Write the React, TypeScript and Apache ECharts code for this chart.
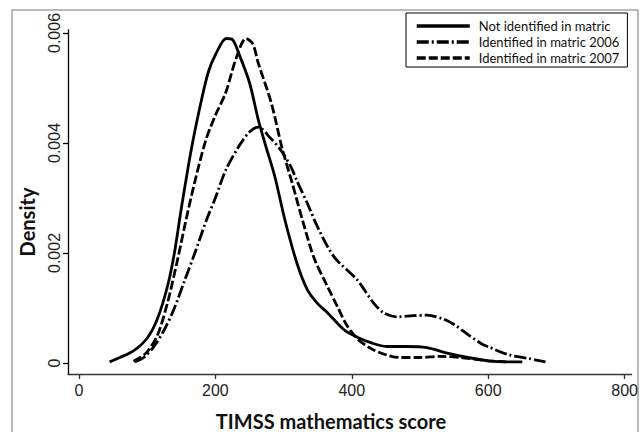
import React, { useEffect, useRef } from "react";
import * as echarts from "echarts";

const xTicks = [0, 200, 400, 600, 800];
const yTicks = [0, 0.002, 0.004, 0.006];
const seriesNames = [
  "Not identified in matric",
  "Identified in matric 2006",
  "Identified in matric 2007",
];

// [score, density]
const notIdentified: [number, number][] = [
  [45, 0.00002], [60, 0.0001], [80, 0.00022], [100, 0.00045], [115, 0.0008],
  [130, 0.0014], [140, 0.002], [150, 0.0028], [165, 0.0039], [180, 0.0048],
  [190, 0.0053], [200, 0.0056], [216, 0.0059], [225, 0.00588], [234, 0.00564],
  [250, 0.0051], [263, 0.00442], [275, 0.0039], [287, 0.0034], [302, 0.0026],
  [320, 0.0018], [335, 0.00133], [350, 0.00108], [364, 0.00092], [389, 0.0006],
  [408, 0.00047], [430, 0.00036], [451, 0.0003], [480, 0.0003], [510, 0.00028],
  [540, 0.00018], [570, 0.0001], [600, 0.00004], [625, 0.00002], [650, 0.00002],
];

const matric2006: [number, number][] = [
  [82, 0.00002], [95, 0.0001], [110, 0.0003], [125, 0.0006], [140, 0.001],
  [155, 0.0015], [170, 0.002], [187, 0.0026], [200, 0.003], [215, 0.0035],
  [234, 0.00393], [250, 0.0042], [263, 0.00429], [280, 0.0041], [296, 0.00387],
  [311, 0.00356], [320, 0.0033], [335, 0.0029], [350, 0.00247], [374, 0.00193],
  [408, 0.00151], [432, 0.00109], [447, 0.00091], [466, 0.00084], [490, 0.00086],
  [510, 0.00087], [534, 0.0008], [550, 0.0007], [570, 0.00052], [590, 0.00035],
  [601, 0.00029], [630, 0.00015], [660, 0.00008], [684, 0.00002],
];

const matric2007: [number, number][] = [
  [80, 0.00003], [90, 0.0001], [100, 0.0002], [115, 0.0005], [130, 0.0011],
  [145, 0.0019], [157, 0.0026], [170, 0.0033], [186, 0.00405], [200, 0.0045],
  [215, 0.00491], [231, 0.00556], [245, 0.0059], [255, 0.0058], [263, 0.00545],
  [282, 0.00473], [298, 0.0039], [312, 0.0033], [330, 0.0025], [345, 0.0019],
  [364, 0.0014], [380, 0.001], [393, 0.00068], [410, 0.00042], [430, 0.00025],
  [450, 0.00015], [470, 0.0001], [500, 0.0001], [530, 0.00012], [560, 0.0001],
  [600, 0.00004], [630, 0.00002],
];

export default function App() {
  const ref = useRef<HTMLDivElement>(null);
  useEffect(() => {
    if (!ref.current) return;
    const chart = echarts.init(ref.current, undefined, { renderer: "svg" });
    const lineBase = { color: "#000", width: 2.8 };
    chart.setOption({
      animation: false,
      backgroundColor: "#fff",
      grid: { left: 68, top: 30, right: 4, bottom: 58, containLabel: false },
      xAxis: {
        type: "value",
        min: -15.97,
        max: 810.2,
        splitLine: { show: false },
        axisLine: { onZero: false, lineStyle: { color: "#333", width: 1.3 } },
        axisTick: { customValues: xTicks, length: 5, lineStyle: { color: "#333", width: 1.3 } },
        axisLabel: {
          customValues: xTicks,
          margin: 8,
          fontSize: 16,
          color: "#222",
          fontFamily: "Liberation Sans",
        },
      },
      yAxis: {
        type: "value",
        min: -0.0002,
        max: 0.0060545,
        splitLine: { show: false },
        axisLine: { onZero: false, lineStyle: { color: "#000", width: 1.3 } },
        axisTick: { customValues: yTicks, length: 5, lineStyle: { color: "#000", width: 1.3 } },
        axisLabel: {
          customValues: yTicks,
          rotate: 90,
          margin: 6,
          fontSize: 16,
          color: "#222",
          fontFamily: "Liberation Sans",
          formatter: (v: number) => (v === 0 ? "0" : v.toFixed(3)),
        },
      },
      legend: {
        orient: "vertical",
        left: 406,
        top: 13,
        itemWidth: 53,
        itemHeight: 16,
        itemGap: 0,
        padding: [5, 8, 1, 9],
        borderColor: "#000",
        borderWidth: 1,
        backgroundColor: "#fff",
        itemStyle: { opacity: 0 },
        lineStyle: { width: 3.5 },
        textStyle: {
          fontSize: 13,
          lineHeight: 16,
          fontFamily: "Lato",
          color: "#111",
          padding: [0, 0, 0, 4],
        },
        data: seriesNames,
      },
      graphic: [
        {
          type: "rect",
          shape: { x: 12, y: 10, width: 626, height: 440 },
          style: { fill: "none", stroke: "#777", lineWidth: 1 },
          silent: true,
          z: -1,
        },
        {
          type: "text",
          x: 27,
          y: 222,
          rotation: Math.PI / 2,
          style: {
            text: "Density",
            fontSize: 20,
            fontWeight: "bold",
            fontFamily: "Lato",
            fill: "#111",
            align: "center",
            verticalAlign: "middle",
          },
        },
        {
          type: "text",
          x: 331,
          y: 421,
          style: {
            text: "TIMSS mathematics score",
            fontSize: 20,
            fontWeight: "bold",
            fontFamily: "Lato",
            fill: "#111",
            align: "center",
            verticalAlign: "middle",
          },
        },
      ],
      series: [
        {
          name: seriesNames[0],
          type: "line",
          data: notIdentified,
          smooth: 0.3,
          showSymbol: false,
          symbol: "none",
          lineStyle: { ...lineBase, type: "solid" },
          itemStyle: { color: "#000" },
        },
        {
          name: seriesNames[1],
          type: "line",
          data: matric2006,
          smooth: 0.3,
          showSymbol: false,
          symbol: "none",
          lineStyle: { ...lineBase, type: [12, 3, 2, 3] },
          itemStyle: { color: "#000" },
        },
        {
          name: seriesNames[2],
          type: "line",
          data: matric2007,
          smooth: 0.3,
          showSymbol: false,
          symbol: "none",
          lineStyle: { ...lineBase, type: [9, 3] },
          itemStyle: { color: "#000" },
        },
      ],
    });
    return () => chart.dispose();
  }, []);
  return <div ref={ref} style={{ width: 641, height: 432, position: "absolute", left: 0, top: 0 }} />;
}
